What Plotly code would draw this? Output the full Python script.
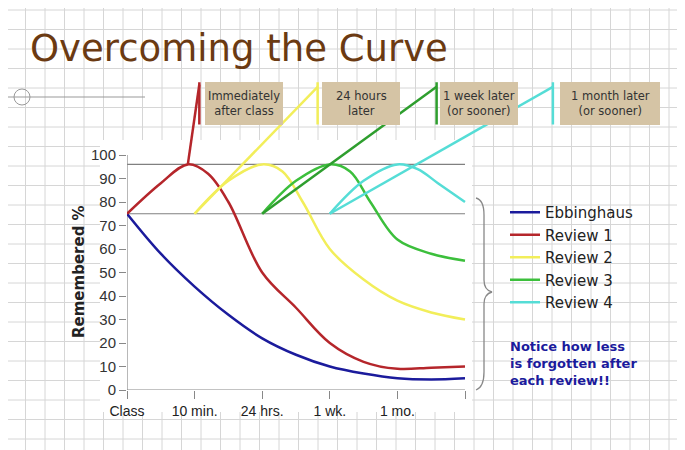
import plotly.graph_objects as go

x_labels = ["Class", "10 min.", "24 hrs.", "1 wk.", "1 mo.", ""]
x_ticks = [0, 1, 2, 3, 4, 5]

ebb_x = [0, 0.5, 1, 1.5, 2, 2.5, 3, 3.5, 4, 4.5, 5]
ebb_y = [75, 58, 44, 32, 22, 15, 10, 7, 5, 4.5, 5]
r1_x = [0, 0.5, 0.9, 1.2, 1.5, 2, 2.5, 3, 3.5, 4, 4.5, 5]
r1_y = [75, 88, 96, 92, 80, 50, 35, 20, 12, 9, 9.5, 10]
r2_x = [1, 1.5, 2, 2.3, 2.6, 3, 3.5, 4, 4.5, 5]
r2_y = [75, 89, 96, 93, 80, 60, 47, 38, 33, 30]
r3_x = [2, 2.5, 3, 3.3, 3.6, 4, 4.5, 5]
r3_y = [75, 89, 96, 93, 80, 64, 58, 55]
r4_x = [3, 3.5, 4, 4.3, 4.6, 5]
r4_y = [75, 89, 96, 94, 88, 80]
names = ["Ebbinghaus", "Review 1", "Review 2", "Review 3", "Review 4"]
colors = ["#1B1B9C", "#B5262B", "#F2EE5A", "#3CBF3C", "#55DDD6"]

ptr_x = [[0.9, 1.07], [1, 2.82], [2, 4.58], [3, 6.3]]
ptr_y = [[96, 130], [75, 129], [75, 129], [75, 129]]
bar_x = [1.07, 2.82, 4.58, 6.3]
box_text = ["Immediately<br>after class", "24 hours<br>later",
            "1 week later<br>(or sooner)", "1 month later<br>(or sooner)"]
box_px = [(205, 283), (322, 400), (440, 518), (560, 660)]

OFF = 8
W, H = 685 - OFF, 450 - OFF
def px(x): return (x - OFF) / W
def py(y): return 1 - (y - OFF) / H

fig = go.Figure()
shapes = []
g = 19.5
v = 6
while v < 685:
    shapes.append(dict(type="line", xref="paper", yref="paper", x0=px(v), x1=px(v), y0=py(0), y1=py(450),
                       line=dict(color="#D6D6D6", width=1), layer="below"))
    v += g
v = 10
while v < 450:
    shapes.append(dict(type="line", xref="paper", yref="paper", x0=px(0), x1=px(685), y0=py(v), y1=py(v),
                       line=dict(color="#D6D6D6", width=1), layer="below"))
    v += g
shapes.append(dict(type="rect", xref="paper", yref="paper", x0=px(100), x1=px(472), y0=py(140), y1=py(412),
                   fillcolor="white", line=dict(width=0), layer="below"))
shapes.append(dict(type="line", xref="paper", yref="paper", x0=px(0), x1=px(145), y0=py(97), y1=py(97),
                   line=dict(color="#999", width=1)))
shapes.append(dict(type="circle", xref="paper", yref="paper", x0=px(14), x1=px(30), y0=py(89), y1=py(105),
                   line=dict(color="#999", width=1)))
for (a, b) in box_px:
    shapes.append(dict(type="rect", xref="paper", yref="paper", x0=px(a), x1=px(b), y0=py(125), y1=py(82),
                       fillcolor="#D5C4A5", line=dict(width=0)))
# bracket
def P(x, y): return f"{px(x)},{py(y)}"
bracket = (f"M {P(476,198)} Q {P(484,200)} {P(484,215)} L {P(484,280)} Q {P(484,290)} {P(492,292)} "
           f"Q {P(484,294)} {P(484,304)} L {P(484,372)} Q {P(484,387)} {P(476,390)}")
shapes.append(dict(type="path", xref="paper", yref="paper", path=bracket, line=dict(color="#888", width=1.3)))

for yv in [96, 75]:
    fig.add_trace(go.Scatter(x=[0, 5], y=[yv, yv], mode="lines", line=dict(color="#808080", width=1.2),
                             showlegend=False, hoverinfo="skip"))
fig.add_trace(go.Scatter(x=[0, 0], y=[0, 100], mode="lines", line=dict(color="#888", width=1.2),
                         showlegend=False, hoverinfo="skip"))
fig.add_trace(go.Scatter(x=[0, 5], y=[0, 0], mode="lines", line=dict(color="#888", width=1.2),
                         showlegend=False, hoverinfo="skip"))

series = [(ebb_x, ebb_y), (r1_x, r1_y), (r2_x, r2_y), (r3_x, r3_y), (r4_x, r4_y)]
for (sx, sy), n, c in zip(series, names, colors):
    fig.add_trace(go.Scatter(x=sx, y=sy, mode="lines", name=n, line=dict(color=c, width=2.5, shape="spline")))
for i in range(4):
    c = colors[i + 1]
    lc = "#2E9E2E" if i == 2 else c
    fig.add_trace(go.Scatter(x=ptr_x[i], y=ptr_y[i], mode="lines", line=dict(color=lc, width=2.5),
                             showlegend=False, hoverinfo="skip"))
    fig.add_trace(go.Scatter(x=[bar_x[i], bar_x[i]], y=[113, 131], mode="lines", line=dict(color=lc, width=2.5),
                             showlegend=False, hoverinfo="skip"))

ann = [dict(text="Overcoming the Curve", xref="paper", yref="paper", x=px(28), y=py(48), xanchor="left",
            yanchor="middle", showarrow=False, font=dict(size=37, color="#6B3A12", family="DejaVu Sans")),
       dict(text="<b>Remembered %</b>", xref="paper", yref="paper", x=px(68), y=py(272), textangle=-90,
            showarrow=False, font=dict(size=15, color="#222", family="DejaVu Sans")),
       dict(text="<b>Notice how less<br>is forgotten after<br>each review!!</b>", xref="paper", yref="paper",
            x=px(508), y=py(363), xanchor="left", yanchor="middle", align="left", showarrow=False,
            font=dict(size=13, color="#1B1B9C", family="DejaVu Sans"))]
for t, (a, b) in zip(box_text, box_px):
    ann.append(dict(text=t, xref="paper", yref="paper", x=px((a + b) / 2), y=py(103.5), xanchor="center",
                    yanchor="middle", showarrow=False, font=dict(size=11.5, color="#333", family="DejaVu Sans")))
fig.update_layout(
    width=W, height=H, margin=dict(l=0, r=0, t=0, b=0), paper_bgcolor="white", plot_bgcolor="rgba(0,0,0,0)",
    shapes=shapes, annotations=ann,
    xaxis=dict(domain=[px(127), 1], range=[0, (685 - 127) / 67.6], tickvals=x_ticks, ticktext=x_labels,
               ticks="outside", ticklen=8, tickcolor="#888", showgrid=False, zeroline=False, showline=False,
               tickfont=dict(size=14, color="#222", family="Liberation Sans"), automargin=False),
    yaxis=dict(domain=[py(390), py(390 - 135 * 2.35)], range=[0, 135], tickvals=list(range(0, 101, 10)),
               ticks="outside", ticklen=7, tickcolor="#888", showgrid=False, zeroline=False, showline=False,
               tickfont=dict(size=15, color="#333", family="Liberation Sans"), automargin=False),
    legend=dict(x=px(505), y=py(196), xanchor="left", yanchor="top", bgcolor="rgba(0,0,0,0)",
                font=dict(size=15, color="#222", family="DejaVu Sans"), tracegroupgap=2),
    showlegend=True,
)
fig.write_html("out.html")
